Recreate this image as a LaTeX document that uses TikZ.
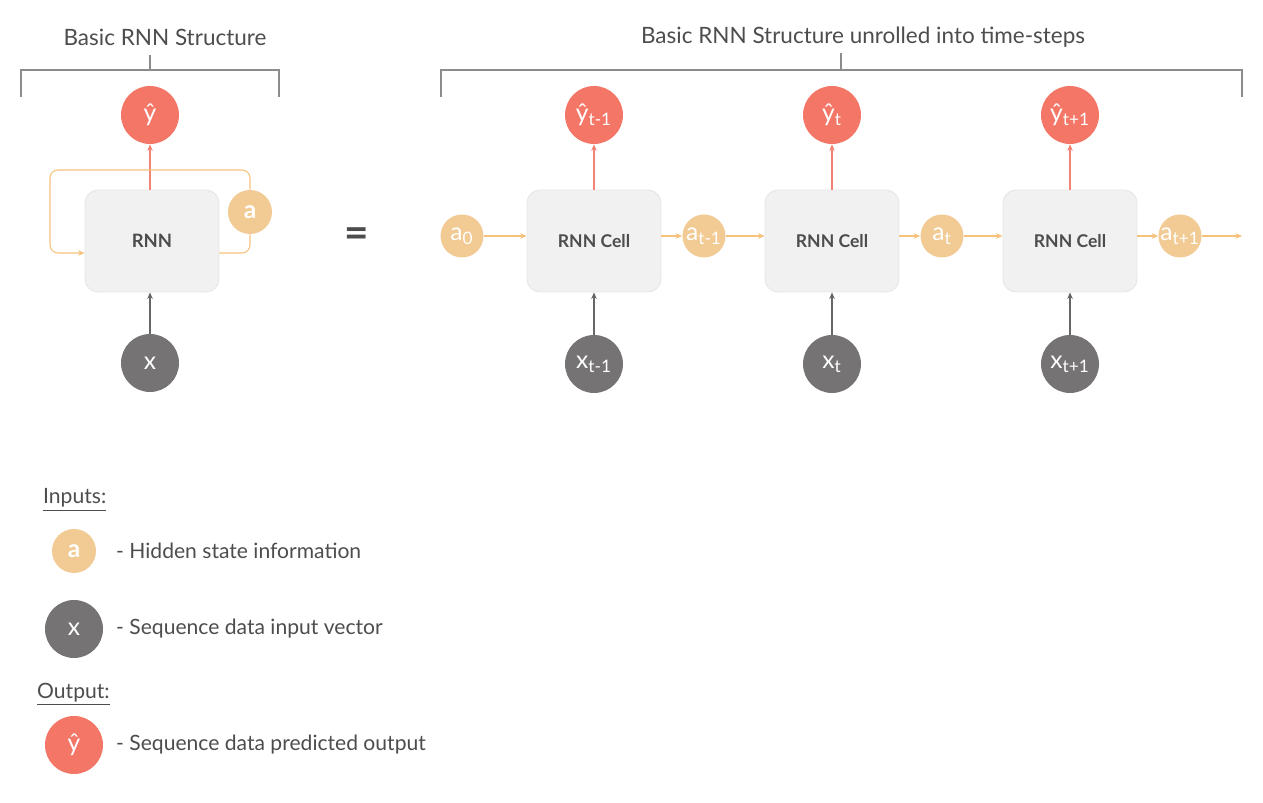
\documentclass[tikz,border=0pt]{standalone}
\usepackage{fontspec}
\setmainfont{Lato}
\usetikzlibrary{arrows.meta,positioning,calc}
\definecolor{rnnred}{HTML}{F37667}
\definecolor{rnnredline}{HTML}{F28373}
\definecolor{rnnorange}{HTML}{F2CA93}
\definecolor{rnnorangeline}{HTML}{F6C17A}
\definecolor{rnndark}{HTML}{757374}
\definecolor{rnndarkline}{HTML}{666666}
\definecolor{rnncell}{HTML}{F1F1F1}
\definecolor{rnncellborder}{HTML}{E6E6E6}
\definecolor{rnntext}{HTML}{4D4D4D}
\definecolor{rnnbracket}{HTML}{8C8C8C}
\tikzstyle{cell} = [rectangle, rounded corners=0.26cm, fill=rnncell, draw=rnncellborder, line width=0.5pt, minimum width=2.68cm, minimum height=2.04cm, font=\bfseries\fontsize{10}{12}\selectfont, text=rnntext]
\tikzstyle{yout} = [circle, fill=rnnred, minimum size=1.16cm, inner sep=0pt, text=white, font=\fontsize{14}{16}\selectfont]
\tikzstyle{xin} = [circle, fill=rnndark, minimum size=1.16cm, inner sep=0pt, text=white, font=\fontsize{14}{16}\selectfont]
\tikzstyle{hid} = [circle, fill=rnnorange, minimum size=0.86cm, inner sep=0pt, text=white, font=\fontsize{14}{16}\selectfont]
\tikzstyle{arrow} = [-{Stealth[length=1.3mm,width=1.1mm]}, line width=0.6pt]
\tikzstyle{bracket} = [rnnbracket, line width=0.7pt]
\tikzstyle{title} = [font=\fontsize{12.8}{15}\selectfont]

\begin{document}
\begin{tikzpicture}[font=\fontsize{12}{14}\selectfont, text=rnntext]
\useasboundingbox (0,0) rectangle (25.26,16.06);
% folded network
\node[title] at (3.30,15.32) (t1) {Basic RNN Structure};
\draw[bracket] (0.42,14.12) -- (0.42,14.66) -- (5.58,14.66) -- (5.58,14.12);
\draw[bracket] (3.0,14.66) -- (3.0,14.96);
\node[yout] at (3.0,13.76) (y) {ŷ};
\node[cell, font=\bfseries\fontsize{10.5}{12}\selectfont] at (3.04,11.24) (rnn) {RNN};
\node[hid, minimum size=0.88cm] at (5.0,11.82) (a) {\textbf{a}};
\node[xin] at (3.0,8.80) (x) {x};
\draw[arrow, rnnredline] (rnn.north -| y) -- (y);
\draw[arrow, rnndarkline] (x) -- (x |- rnn.south);
\draw[rnnorangeline, line width=0.6pt, rounded corners=0.16cm] ([yshift=-0.24cm]rnn.east) -| (a.south);
\draw[arrow, rnnorangeline, rounded corners=0.16cm] (a.north) |- (1.0,12.66) |- ([yshift=-0.24cm]rnn.west);
\node at (7.14,11.30) (eq) {\bfseries\fontsize{24}{24}\selectfont =};
% unrolled network
\node[title] at (17.26,15.32) (t2) {Basic RNN Structure unrolled into time-steps};
\draw[bracket] (8.82,14.12) -- (8.82,14.66) -- (24.84,14.66) -- (24.84,14.12);
\draw[bracket] (16.82,14.66) -- (16.82,15.0);
\node[hid] at (9.24,11.34) (a0) {a\textsubscript{0}};
\foreach \i/\s in {1/t-1,2/t,3/t+1} {
  \pgfmathsetmacro\cx{11.88+4.76*(\i-1)}
  \node[cell] at (\cx,11.24) (c\i) {RNN Cell};
  \node[yout] at (\cx,13.76) (y\i) {ŷ\textsubscript{\s}};
  \node[xin] at (\cx,8.78) (x\i) {x\textsubscript{\s}};
  \node[hid] at (\cx+2.2,11.34) (a\i) {a\textsubscript{\s}};
  \draw[arrow, rnnredline] (c\i.north) -- (y\i);
  \draw[arrow, rnndarkline] (x\i) -- (c\i.south);
  \draw[arrow, rnnorangeline] (c\i.east |- a\i) -- (a\i);
}
\coordinate (aend) at (24.84,11.34);
\draw[arrow, rnnorangeline] (a0) -- (a0 -| c1.west);
\draw[arrow, rnnorangeline] (a1) -- (a1 -| c2.west);
\draw[arrow, rnnorangeline] (a2) -- (a2 -| c3.west);
\draw[arrow, rnnorangeline] (a3) -- (aend);
% legend
\node[anchor=west] at (0.74,6.06) (lin) {\underline{Inputs:}};
\node[hid, minimum size=0.88cm] at (1.48,5.04) (la) {\textbf{a}};
\node[anchor=west] at (2.20,5.04) (lat) {- Hidden state information};
\node[xin] at (1.48,3.48) (lx) {x};
\node[anchor=west] at (2.20,3.48) (lxt) {- Sequence data input vector};
\node[anchor=west] at (0.62,2.18) (lout) {\underline{Output:}};
\node[yout] at (1.48,1.16) (ly) {ŷ};
\node[anchor=west] at (2.20,1.16) (lyt) {- Sequence data predicted output};
\end{tikzpicture}
\end{document}
